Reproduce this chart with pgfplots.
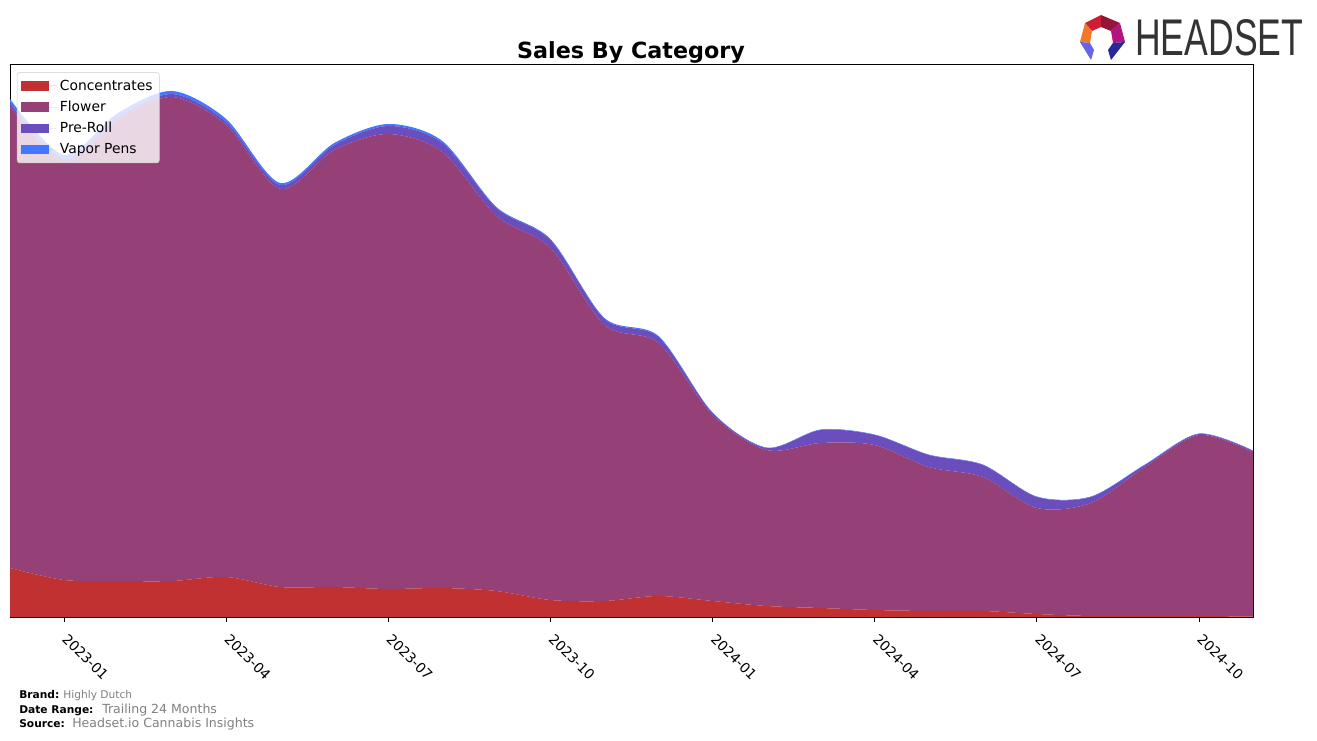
\documentclass[border=0pt]{standalone}
\usepackage{pgfplots}
\pgfplotsset{compat=1.18}
\usepackage{pgfplotstable}
\usepackage{fontspec}
\setmainfont{DejaVu Sans}
\newfontfamily\logofont{Liberation Sans}
\definecolor{cConc}{RGB}{193,49,49}
\definecolor{cFlower}{RGB}{149,64,118}
\definecolor{cPre}{RGB}{106,78,190}
\definecolor{cVapor}{RGB}{68,119,255}
\definecolor{footgray}{RGB}{128,128,128}
\definecolor{logogray}{RGB}{51,51,51}

% month index: 0 = 2023-01
\pgfplotstableread{
m conc flower preroll vapor
-1 49 462 3 4
0 37 418 3 4
1 36 461 3 4
2 36 484 3 3
3 40 452 3 3
4 30 398 4 2
5 30 437 5 2
6 28 455 8 2
7 29 436 9 2
8 26 375 8 1
9 17 352 8 1
10 16 276 6 1
11 21 253 6 1
12 16 186 2 0.5
13 11 156 2 0.5
14 9 165 13 0.5
15 7 165 10 0.5
16 6 144 12 0.5
17 6 134 12 0.5
18 3 106 11 0.5
19 1 113 6 0.5
20 1 149 2 0.5
21 1 181 1 0.5
22 0.5 164.5 1 0.5
}\datatable

\begin{document}
\begin{tikzpicture}
\useasboundingbox (0,0) rectangle (987.75pt,555pt);
\begin{axis}[
  at={(7.5pt,92.25pt)}, anchor=south west,
  scale only axis, width=932.25pt, height=414pt,
  xmin=-1, xmax=22, ymin=0, ymax=552,
  stack plots=y,
  axis line style={line width=0.75pt},
  ytick=\empty,
  xtick={0,3,6,9,12,15,18,21},
  xticklabels={2023-01,2023-04,2023-07,2023-10,2024-01,2024-04,2024-07,2024-10},
  xtick pos=bottom,
  tick align=outside,
  major tick length=3.75pt,
  tick style={black, line width=0.6pt},
  xticklabel style={rotate=-45, anchor=north west, inner sep=1pt, font=\fontsize{10.4}{12}\selectfont, xshift=7pt, yshift=-2pt},
  legend style={at={(0.0056,0.987)}, anchor=north west, draw=black!20, rounded corners=2pt,
    fill=white, fill opacity=0.8, text opacity=1, font=\fontsize{10.4}{12.5}\selectfont,
    row sep=2.6pt, inner xsep=3pt, inner ysep=3.5pt},
  legend cell align=left,
  legend image code/.code={\fill[#1, fill opacity=1, sharp corners] (0pt,-3.5pt) rectangle (21pt,3.5pt); \path (0pt,0pt) -- (27pt,0pt);},
  clip=true,
]
\addplot[draw=none, fill=cConc, smooth] table[x=m,y=conc]{\datatable} \closedcycle;
\addlegendentry{Concentrates}
\addplot[draw=none, fill=cFlower, smooth] table[x=m,y=flower]{\datatable} \closedcycle;
\addlegendentry{Flower}
\addplot[draw=none, fill=cPre, smooth] table[x=m,y=preroll]{\datatable} \closedcycle;
\addlegendentry{Pre-Roll}
\addplot[draw=none, fill=cVapor, smooth] table[x=m,y=vapor]{\datatable} \closedcycle;
\addlegendentry{Vapor Pens}
\end{axis}

% title
\node[anchor=base, font=\fontsize{16.7}{19}\selectfont\bfseries] at (473.25pt,510.75pt) {Sales By Category};

% footer
\node[anchor=base west, inner sep=0pt, font=\fontsize{8}{9}\selectfont\bfseries] at (14.25pt,31.5pt) {Brand:};
\node[anchor=base west, inner sep=0pt, font=\fontsize{8}{9}\selectfont, text=footgray] at (47.25pt,31.5pt) {Highly Dutch};
\node[anchor=base west, inner sep=0pt, font=\fontsize{8}{9}\selectfont\bfseries] at (14.25pt,20.25pt) {Date Range:};
\node[anchor=base west, inner sep=0pt, font=\fontsize{9.4}{10}\selectfont, text=footgray] at (76.5pt,20.25pt) {Trailing 24 Months};
\node[anchor=base west, inner sep=0pt, font=\fontsize{8}{9}\selectfont\bfseries] at (14.25pt,9.75pt) {Source:};
\node[anchor=base west, inner sep=0pt, font=\fontsize{9.4}{10}\selectfont, text=footgray] at (54pt,9.75pt) {Headset.io Cannabis Insights};

% logo
\fill[color={rgb,255:red,205;green,30;blue,50}] (825.75pt,543.75pt) -- (813.75pt,537.75pt) -- (819pt,531.75pt) -- (825.75pt,534.75pt) -- cycle;
\fill[color={rgb,255:red,150;green,20;blue,55}] (825.75pt,543.75pt) -- (840pt,537.75pt) -- (833.25pt,531.75pt) -- (825.75pt,534.75pt) -- cycle;
\fill[color={rgb,255:red,240;green,120;blue,40}] (813.75pt,537.75pt) -- (810pt,523.5pt) -- (817.5pt,522.75pt) -- (819pt,531.75pt) -- cycle;
\fill[color={rgb,255:red,180;green,20;blue,130}] (840pt,537.75pt) -- (843.75pt,523.5pt) -- (834.75pt,522.75pt) -- (833.25pt,531.75pt) -- cycle;
\fill[color={rgb,255:red,100;green,100;blue,230}] (810pt,523.5pt) -- (818.25pt,510pt) -- (820.5pt,517.5pt) -- (817.5pt,522.75pt) -- cycle;
\fill[color={rgb,255:red,40;green,40;blue,150}] (843.75pt,523.5pt) -- (833.25pt,510pt) -- (831pt,517.5pt) -- (834.75pt,522.75pt) -- cycle;
\node[anchor=base west, inner sep=0pt, text=logogray] at (851.25pt,513pt) {\resizebox{126pt}{27pt}{\logofont HEADSET}};
\end{tikzpicture}
\end{document}
